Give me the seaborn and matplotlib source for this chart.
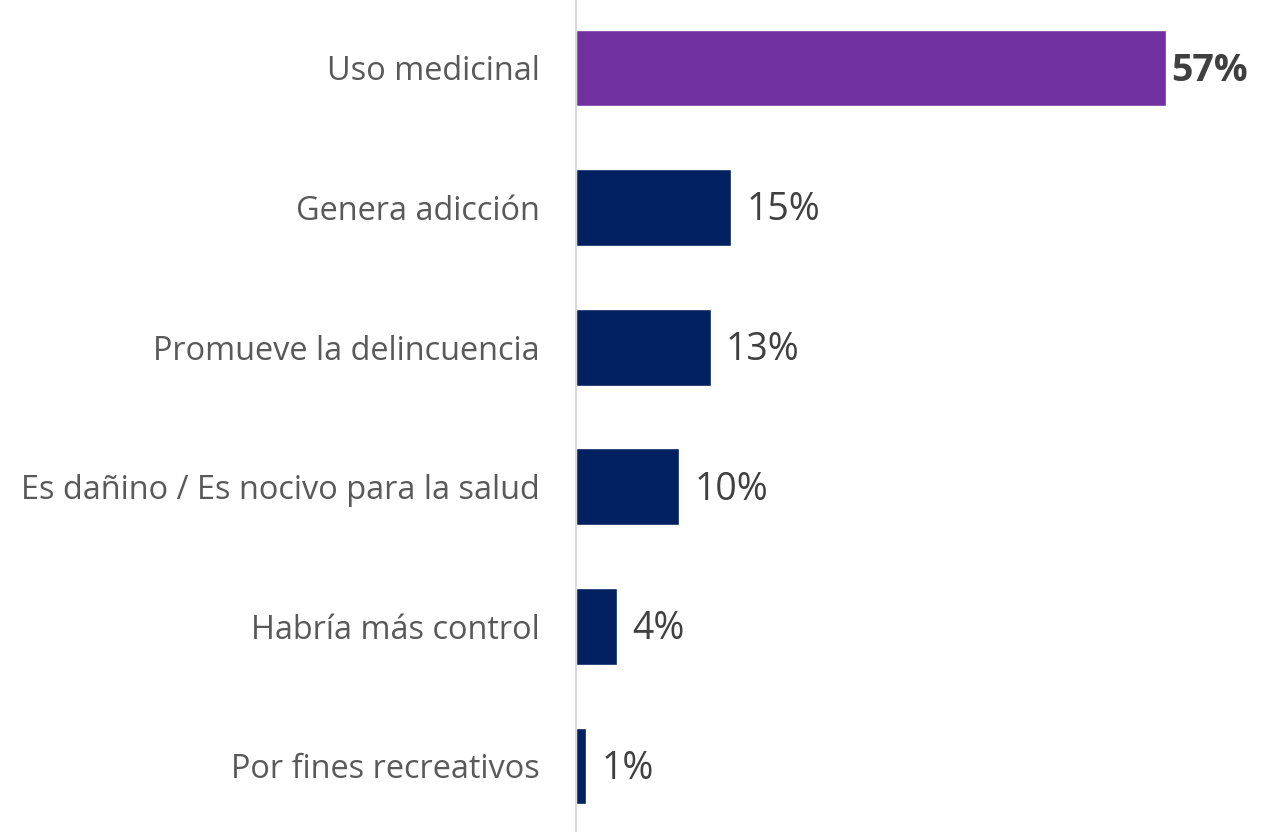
import matplotlib
matplotlib.use("Agg")
import matplotlib.pyplot as plt
import seaborn as sns
import pandas as pd

categories = ["Uso medicinal", "Genera adicción", "Promueve la delincuencia",
              "Es dañino / Es nocivo para la salud", "Habría más control",
              "Por fines recreativos"]
values = [57, 15, 13, 10, 4, 1]
bar_colors = ["#7030A0", "#002060", "#002060", "#002060", "#002060", "#002060"]

sns.set_style("white")
plt.rcParams["font.family"] = ["Open Sans", "DejaVu Sans"]

df = pd.DataFrame({"cat": categories, "val": values})

fig = plt.figure(figsize=(12.68, 8.32), dpi=100)
ax = fig.add_axes([576 / 1268, 0, 1 - 576 / 1268, 1])

sns.barplot(data=df, x="val", y="cat", hue="cat", palette=bar_colors,
            legend=False, width=0.55, ax=ax, saturation=1)

ax.set_xlim(0, 66.86)
ax.set_ylim(5.473, -0.487)
ax.set_xlabel("")
ax.set_ylabel("")
ax.set_xticks([])
for s in ["top", "right", "bottom"]:
    ax.spines[s].set_visible(False)
ax.spines["left"].set_color("#D9D9D9")
ax.spines["left"].set_linewidth(1.5)
ax.tick_params(axis="y", length=0, pad=26, labelsize=23.4, labelcolor="#595959")

# etiquetas de valor
for i, v in enumerate(values):
    ax.annotate(f"{v}%", (v, i), xytext=(4 if i == 0 else 11, -2),
                textcoords="offset points", va="center", ha="left",
                fontsize=27, color="#404040",
                fontweight="bold" if i == 0 else "normal")

fig.savefig("out.png", dpi=100)
